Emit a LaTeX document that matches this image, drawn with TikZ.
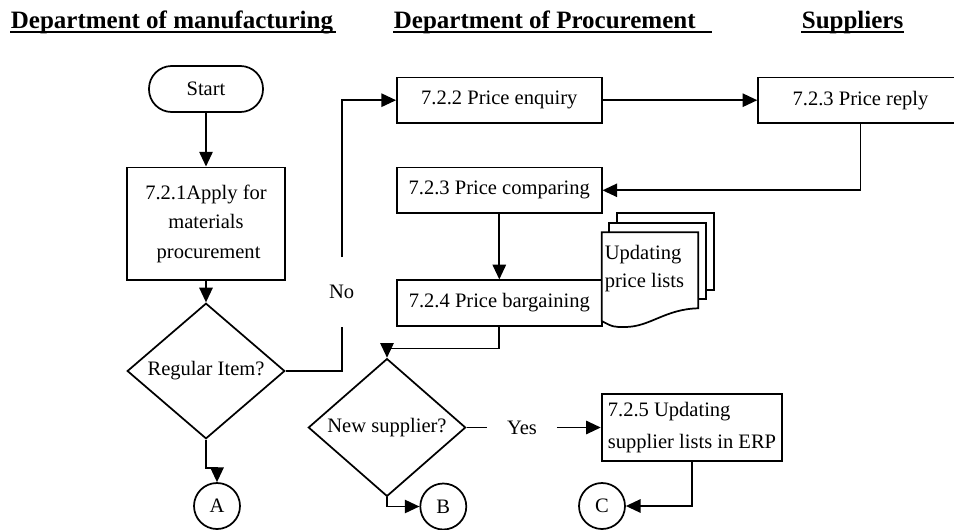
\documentclass[tikz,border=0pt]{standalone}
\usepackage{fontspec}
\setmainfont{Liberation Serif}
\usetikzlibrary{arrows.meta, shapes.geometric, calc}

\begin{document}
\begin{tikzpicture}[x=0.75pt, y=-0.75pt, >={Triangle[length=11pt,width=10pt]},
    line width=1.3pt,
    every node/.style={font=\fontsize{15.4}{22}\selectfont},
    box/.style={draw, rectangle, inner sep=2pt, minimum width=153.5pt, minimum height=34.1pt},
    decision/.style={draw, diamond, inner sep=0pt, minimum width=118pt, minimum height=83.8pt},
    terminal/.style={draw, rectangle, rounded corners=17pt, minimum width=85.5pt, minimum height=34.5pt},
    connector/.style={draw, circle, inner sep=0pt, minimum size=34.5pt},
    head/.style={anchor=base west, inner sep=0pt, font=\fontsize{18.75}{22}\selectfont\bfseries},
    uline/.style={line width=1.7pt},
    page/.style={draw, fill=white}]
    \useasboundingbox (0,0) rectangle (954,529);

    % Column headings
    \node[head] (h1) at (10,28) {Department of manufacturing};
    \node[head] (h2) at (393,28) {Department of Procurement};
    \node[head] (h3) at (801,28) {Suppliers};
    \draw[uline] ($(h1.base west)+(0,4)$) -- ($(h1.base east)+(2,4)$);
    \draw[uline] ($(h2.base west)+(0,4)$) -- ($(h2.base east)+(16,4)$);
    \draw[uline] ($(h3.base west)+(0,4)$) -- ($(h3.base east)+(0,4)$);

    % Manufacturing
    \node[terminal] (start) at (206,89) {Start};
    \node[box, minimum width=118.7pt, minimum height=84.5pt, align=center,
        font=\fontsize{15.4}{22.1}\selectfont] (apply) at (206,223.7)
        {7.2.1Apply for\\materials\\\hspace*{0.25em}procurement};
    \node[decision, minimum width=118.2pt] (regular) at (206,371) {Regular Item?};
    \node[inner sep=0pt, minimum height=51pt] (no) at (341.7,292) {No};

    % Procurement and suppliers
    \node[box] (enquiry) at (499.3,100.2) {7.2.2 Price enquiry};
    \node[box] (reply) at (860.5,100.2) {7.2.3 Price reply};
    \node[box] (compare) at (499.3,190.3) {7.2.3 Price comparing};
    \node[box] (bargain) at (499.3,303) {7.2.4 Price bargaining};
    \node[decision] (newsup) at (387,427.5) {New supplier?};
    \node[inner sep=0pt, minimum width=51pt] (yes) at (522,427.5) {Yes};
    \node[box, minimum width=135.5pt, minimum height=50.25pt, align=left,
        font=\fontsize{15.4}{23.7}\selectfont] (update) at (692,427.5)
        {7.2.5 Updating\\supplier lists in ERP};

    % Price lists (stacked pages)
    \draw[page] (616.7,213.3) rectangle (714.3,290);
    \draw[page] (609,223) rectangle (706,299);
    \draw[page] (601.7,232.3) -- (698.3,232.3) -- (698.3,308.3)
        .. controls (665,309) and (650,327) .. (625,327)
        .. controls (613,327) .. (601.7,321) -- cycle;
    \node[anchor=west, align=left, inner sep=0pt,
        font=\fontsize{15.4}{21}\selectfont] (doc) at (604,269) {Updating\\price lists};

    % Off-page connectors
    \node[connector] (A) at (217,506) {A};
    \node[connector] (B) at (443.3,506.5) {B};
    \node[connector] (C) at (602,506) {C};

    % Flow lines
    \draw[->] (start) -- (apply);
    \draw[->] (apply) -- (regular);
    \draw (regular.east) -| (no.south);
    \draw[->] (no.north) |- (enquiry.west);
    \draw[->] (enquiry) -- (reply);
    \draw[->] (reply.south) |- (compare.east);
    \draw[->] (compare) -- (bargain);
    \draw[->] (bargain.south) -- ++(0,22) -| (newsup.north);
    \draw (newsup.east) -- (yes.west);
    \draw[->] (yes.east) -- (update.west);
    \draw[->] (regular.south) -- ++(0,28) -| (A.north);
    \draw[->] (newsup.south) |- (B.west);
    \draw[->] (update.south) |- (C.east);
\end{tikzpicture}
\end{document}
